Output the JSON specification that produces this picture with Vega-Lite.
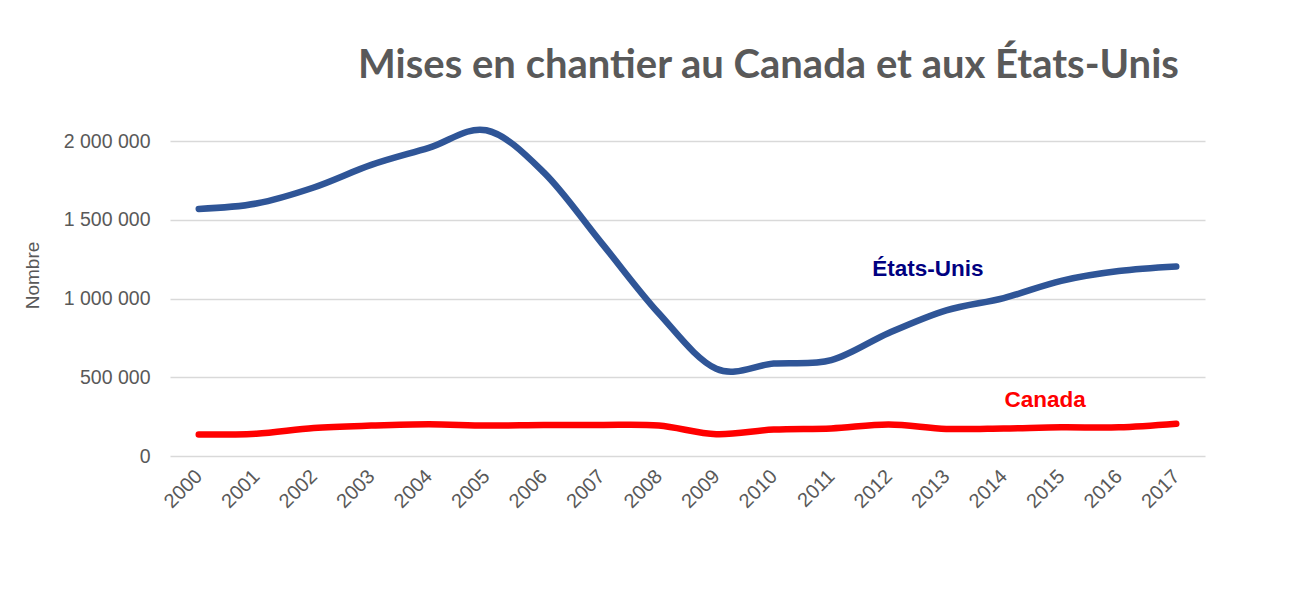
{
  "$schema": "https://vega.github.io/schema/vega-lite/v6.json",
  "width": 1035,
  "height": 315,
  "autosize": {"type": "none"},
  "padding": {"left": 170, "top": 141, "right": 109, "bottom": 140},
  "background": "white",
  "config": {"view": {"stroke": null}},
  "title": {
    "text": "Mises en chantier au Canada et aux États-Unis",
    "font": "Lato",
    "fontSize": 40,
    "fontWeight": "bold",
    "color": "#595959",
    "anchor": "middle",
    "baseline": "alphabetic",
    "dx": 81,
    "offset": 57,
    "dy": 58
  },
  "datasets": {
    "series": [
      {"year": 2000, "value": 1569000, "pays": "États-Unis"},
      {"year": 2001, "value": 1603000, "pays": "États-Unis"},
      {"year": 2002, "value": 1705000, "pays": "États-Unis"},
      {"year": 2003, "value": 1848000, "pays": "États-Unis"},
      {"year": 2004, "value": 1956000, "pays": "États-Unis"},
      {"year": 2005, "value": 2068000, "pays": "États-Unis"},
      {"year": 2006, "value": 1801000, "pays": "États-Unis"},
      {"year": 2007, "value": 1355000, "pays": "États-Unis"},
      {"year": 2008, "value": 906000, "pays": "États-Unis"},
      {"year": 2009, "value": 554000, "pays": "États-Unis"},
      {"year": 2010, "value": 587000, "pays": "États-Unis"},
      {"year": 2011, "value": 609000, "pays": "États-Unis"},
      {"year": 2012, "value": 781000, "pays": "États-Unis"},
      {"year": 2013, "value": 925000, "pays": "États-Unis"},
      {"year": 2014, "value": 1003000, "pays": "États-Unis"},
      {"year": 2015, "value": 1112000, "pays": "États-Unis"},
      {"year": 2016, "value": 1174000, "pays": "États-Unis"},
      {"year": 2017, "value": 1203000, "pays": "États-Unis"},
      {"year": 2000, "value": 136000, "pays": "Canada"},
      {"year": 2001, "value": 142000, "pays": "Canada"},
      {"year": 2002, "value": 178000, "pays": "Canada"},
      {"year": 2003, "value": 193000, "pays": "Canada"},
      {"year": 2004, "value": 201000, "pays": "Canada"},
      {"year": 2005, "value": 193000, "pays": "Canada"},
      {"year": 2006, "value": 197000, "pays": "Canada"},
      {"year": 2007, "value": 197000, "pays": "Canada"},
      {"year": 2008, "value": 193000, "pays": "Canada"},
      {"year": 2009, "value": 138000, "pays": "Canada"},
      {"year": 2010, "value": 168000, "pays": "Canada"},
      {"year": 2011, "value": 175000, "pays": "Canada"},
      {"year": 2012, "value": 200000, "pays": "Canada"},
      {"year": 2013, "value": 172000, "pays": "Canada"},
      {"year": 2014, "value": 175000, "pays": "Canada"},
      {"year": 2015, "value": 182000, "pays": "Canada"},
      {"year": 2016, "value": 182000, "pays": "Canada"},
      {"year": 2017, "value": 205000, "pays": "Canada"}
    ],
    "labels": [
      {"year": 2012.68, "value": 1190000, "pays": "États-Unis"},
      {"year": 2014.72, "value": 355000, "pays": "Canada"}
    ]
  },
  "encoding": {
    "x": {
      "field": "year",
      "type": "quantitative",
      "scale": {"domain": [1999.5, 2017.5], "nice": false, "zero": false},
      "axis": {
        "title": null,
        "values": [2000, 2001, 2002, 2003, 2004, 2005, 2006, 2007, 2008, 2009, 2010, 2011, 2012, 2013, 2014, 2015, 2016, 2017],
        "format": "d",
        "labelAngle": -45,
        "labelAlign": "right",
        "labelBaseline": "middle",
        "labelPadding": 17,
        "labelFont": "Liberation Sans",
        "labelFontSize": 20,
        "labelColor": "#595959",
        "domain": false,
        "ticks": false,
        "grid": false
      }
    },
    "y": {
      "field": "value",
      "type": "quantitative",
      "scale": {"domain": [0, 2000000], "nice": false},
      "axis": {
        "title": "Nombre",
        "values": [0, 500000, 1000000, 1500000, 2000000],
        "labelExpr": "replace(replace(format(datum.value, ','), ',', ' '), ',', ' ')",
        "labelFont": "Liberation Sans",
        "labelFontSize": 19.5,
        "labelColor": "#595959",
        "labelPadding": 20,
        "titleFont": "Liberation Sans",
        "titleFontSize": 19,
        "titleFontWeight": "normal",
        "titleColor": "#595959",
        "titleX": -128,
        "titleY": 134,
        "domain": false,
        "ticks": false,
        "grid": true,
        "gridColor": "#d9d9d9",
        "gridWidth": 1.5
      }
    },
    "color": {
      "field": "pays",
      "type": "nominal",
      "scale": {"domain": ["États-Unis", "Canada"], "range": ["#2F5597", "#FF0000"]},
      "legend": null
    }
  },
  "layer": [
    {
      "data": {"name": "series"},
      "mark": {"type": "line", "strokeWidth": 6.5, "interpolate": "cardinal", "strokeCap": "round", "clip": false}
    },
    {
      "data": {"name": "labels"},
      "mark": {"type": "text", "font": "Liberation Sans", "fontSize": 22.5, "fontWeight": "bold", "align": "center", "baseline": "middle"},
      "encoding": {
        "text": {"field": "pays"},
        "color": {
          "field": "pays",
          "type": "nominal",
          "scale": {"domain": ["États-Unis", "Canada"], "range": ["#000080", "#FF0000"]},
          "legend": null
        }
      }
    }
  ],
  "resolve": {"scale": {"color": "independent"}}
}
